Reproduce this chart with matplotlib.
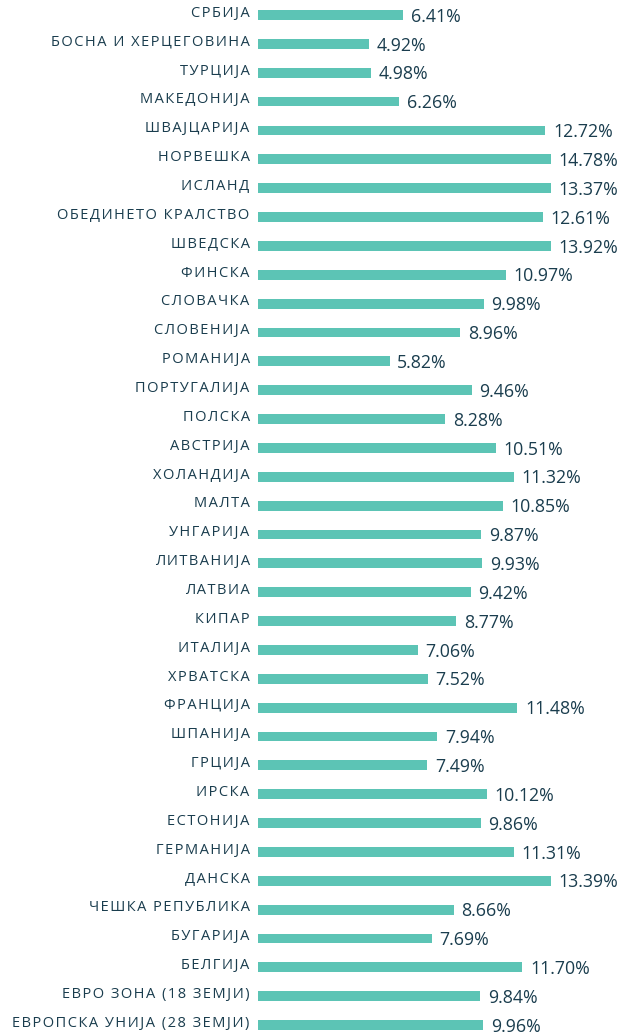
import matplotlib

matplotlib.use("Agg")
import matplotlib.pyplot as plt

BAR_COLOR = "#5cc4b5"
TEXT_COLOR = "#1a3d4e"

countries = [
    "СРБИЈА", "БОСНА И ХЕРЦЕГОВИНА", "ТУРЦИЈА", "МАКЕДОНИЈА", "ШВАЈЦАРИЈА",
    "НОРВЕШКА", "ИСЛАНД", "ОБЕДИНЕТО КРАЛСТВО", "ШВЕДСКА", "ФИНСКА",
    "СЛОВАЧКА", "СЛОВЕНИЈА", "РОМАНИЈА", "ПОРТУГАЛИЈА", "ПОЛСКА",
    "АВСТРИЈА", "ХОЛАНДИЈА", "МАЛТА", "УНГАРИЈА", "ЛИТВАНИЈА",
    "ЛАТВИА", "КИПАР", "ИТАЛИЈА", "ХРВАТСКА", "ФРАНЦИЈА",
    "ШПАНИЈА", "ГРЦИЈА", "ИРСКА", "ЕСТОНИЈА", "ГЕРМАНИЈА",
    "ДАНСКА", "ЧЕШКА РЕПУБЛИКА", "БУГАРИЈА", "БЕЛГИЈА",
    "ЕВРО ЗОНА (18 ЗЕМЈИ)", "ЕВРОПСКА УНИЈА (28 ЗЕМЈИ)",
]
values = [
    6.41, 4.92, 4.98, 6.26, 12.72,
    14.78, 13.37, 12.61, 13.92, 10.97,
    9.98, 8.96, 5.82, 9.46, 8.28,
    10.51, 11.32, 10.85, 9.87, 9.93,
    9.42, 8.77, 7.06, 7.52, 11.48,
    7.94, 7.49, 10.12, 9.86, 11.31,
    13.39, 8.66, 7.69, 11.70,
    9.84, 9.96,
]

W, H = 619, 1034
X_MAX = 12.95          # bars longer than this get cut by the plot area
PX_PER_UNIT = 22.6
PITCH = 28.86          # row spacing in px
FIRST = 15.0           # centre of first row, px from top


def spaced(s):
    # fake letter spacing with hair spaces
    return "\u200a".join(s)


fig = plt.figure(figsize=(W / 100, H / 100), dpi=100)
left = 258 / W
ax = fig.add_axes([left, 0, X_MAX * PX_PER_UNIT / W, 1])
n = len(values)
ax.set_xlim(0, X_MAX)
ax.set_ylim((H - FIRST) / PITCH, -FIRST / PITCH)
ax.axis("off")

ypos = list(range(n))
ax.barh(ypos, values, height=0.34, color=BAR_COLOR)

for y, name, v in zip(ypos, countries, values):
    ax.annotate(spaced(name), (0, y), xytext=(-6, 1.2), textcoords="offset points",
                ha="right", va="center", fontsize=10.5, color=TEXT_COLOR,
                family=["Open Sans", "DejaVu Sans"], annotation_clip=False)
    ax.annotate(f"{v:.2f}%", (min(v, X_MAX), y), xytext=(5.5, -1.2),
                textcoords="offset points", ha="left", va="center",
                fontsize=12.8, color=TEXT_COLOR, family=["Open Sans", "DejaVu Sans"],
                annotation_clip=False)

fig.savefig("out.png", dpi=100)
